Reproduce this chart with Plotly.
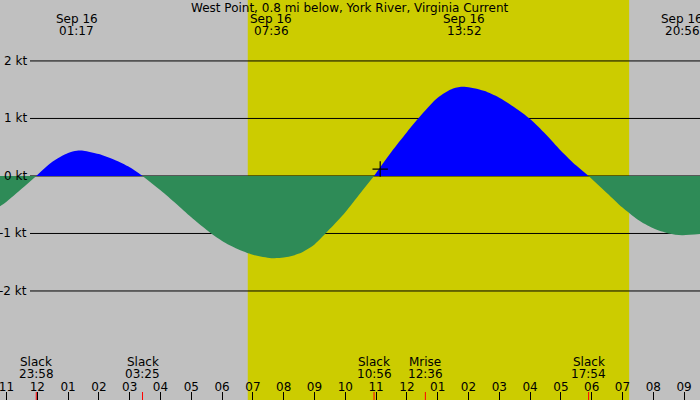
import plotly.graph_objects as go

title = "West Point, 0.8 mi below, York River, Virginia Current"

# current speed (kt), slack points are exact zeros
times = [
    "2024-09-15 22:47", "2024-09-15 23:00", "2024-09-15 23:30", "2024-09-15 23:58",
    "2024-09-16 00:30", "2024-09-16 01:00", "2024-09-16 01:17", "2024-09-16 01:30",
    "2024-09-16 02:00", "2024-09-16 02:30", "2024-09-16 03:00", "2024-09-16 03:25",
    "2024-09-16 04:00", "2024-09-16 04:30", "2024-09-16 05:00", "2024-09-16 05:30",
    "2024-09-16 06:00", "2024-09-16 06:30", "2024-09-16 07:00", "2024-09-16 07:36",
    "2024-09-16 08:00", "2024-09-16 08:30", "2024-09-16 09:00", "2024-09-16 09:30",
    "2024-09-16 10:00", "2024-09-16 10:30", "2024-09-16 10:56",
    "2024-09-16 11:30", "2024-09-16 12:00", "2024-09-16 12:30", "2024-09-16 13:00",
    "2024-09-16 13:30", "2024-09-16 13:52", "2024-09-16 14:30", "2024-09-16 15:00",
    "2024-09-16 15:30", "2024-09-16 16:00", "2024-09-16 16:30", "2024-09-16 17:00",
    "2024-09-16 17:30", "2024-09-16 17:54",
    "2024-09-16 18:30", "2024-09-16 19:00", "2024-09-16 19:30", "2024-09-16 20:00",
    "2024-09-16 20:30", "2024-09-16 20:56", "2024-09-16 21:31",
]
speeds = [
    -0.53, -0.45, -0.22, 0,
    0.25, 0.40, 0.44, 0.44,
    0.38, 0.28, 0.15, 0,
    -0.25, -0.48, -0.72, -0.94,
    -1.13, -1.27, -1.37, -1.43,
    -1.42, -1.35, -1.19, -0.92,
    -0.63, -0.29, 0,
    0.42, 0.76, 1.08, 1.36,
    1.52, 1.55, 1.48, 1.36,
    1.19, 0.99, 0.73, 0.44,
    0.18, 0,
    -0.30, -0.55, -0.76, -0.91,
    -1.00, -1.03, -1.01,
]

max_times = ["2024-09-16 01:17", "2024-09-16 07:36", "2024-09-16 13:52", "2024-09-16 20:56"]
max_dates = ["Sep 16", "Sep 16", "Sep 16", "Sep 16"]
max_labels = ["01:17", "07:36", "13:52", "20:56"]

event_times = ["2024-09-15 23:58", "2024-09-16 03:25", "2024-09-16 10:56",
               "2024-09-16 12:36", "2024-09-16 17:54"]
event_names = ["Slack", "Slack", "Slack", "Mrise", "Slack"]
event_labels = ["23:58", "03:25", "10:56", "12:36", "17:54"]

sunrise = "2024-09-16 06:50"
sunset = "2024-09-16 19:13"

now_time = "2024-09-16 11:08"
now_speed = 0.12

kt_ticks = [2, 1, 0, -1, -2]

x_range = ["2024-09-15 22:47:20", "2024-09-16 21:31"]
y_range = [-3.896, 3.06]

font = dict(family="DejaVu Sans", size=12, color="black")

# split the curve at slack so flood and ebb get their own fill colour
segments = []
seg_x, seg_y = [times[0]], [speeds[0]]
for t, s in zip(times[1:], speeds[1:]):
    seg_x.append(t)
    seg_y.append(s)
    if s == 0:
        segments.append((seg_x, seg_y))
        seg_x, seg_y = [t], [s]
if len(seg_x) > 1:
    segments.append((seg_x, seg_y))

fig = go.Figure()

for sx, sy in segments:
    color = "#0000FF" if sum(sy) > 0 else "#2E8B57"
    fig.add_trace(go.Scatter(
        x=sx, y=sy, mode="lines",
        line=dict(width=0, shape="spline", smoothing=0.8),
        fill="tozeroy", fillcolor=color,
        hoverinfo="skip", showlegend=False,
    ))

fig.add_trace(go.Scatter(
    x=[now_time], y=[now_speed], mode="markers",
    marker=dict(symbol="cross-thin", size=11, line=dict(color="black", width=1.2)),
    hoverinfo="skip", showlegend=False,
))

shapes = [dict(type="rect", xref="x", yref="paper", x0=sunrise, x1=sunset, y0=0, y1=1,
               fillcolor="#CCCC00", line=dict(width=0), layer="below")]
for k in kt_ticks:
    shapes.append(dict(type="line", xref="paper", yref="y", x0=30 / 700, x1=1, y0=k, y1=k,
                       line=dict(color="black", width=1), layer="below"))
for t in event_times:
    shapes.append(dict(type="line", xref="x", yref="paper", x0=t, x1=t, y0=0, y1=0.02,
                       line=dict(color="red", width=1)))

annotations = [dict(text=title, xref="paper", yref="paper", x=0.5, y=1 - 7.5 / 400,
                    showarrow=False, font=font, yanchor="middle")]
for k in kt_ticks:
    annotations.append(dict(text=f"{k} kt", xref="paper", yref="y", x=29 / 700, y=k,
                            xanchor="right", yanchor="middle", showarrow=False, font=font))
for t, d, lab in zip(max_times, max_dates, max_labels):
    annotations.append(dict(text=d, xref="x", yref="paper", x=t, y=1 - 19.5 / 400,
                            yanchor="middle", showarrow=False, font=font))
    annotations.append(dict(text=lab, xref="x", yref="paper", x=t, y=1 - 31.5 / 400,
                            yanchor="middle", showarrow=False, font=font))
for t, n, lab in zip(event_times, event_names, event_labels):
    annotations.append(dict(text=n, xref="x", yref="paper", x=t, y=1 - 361.5 / 400,
                            yanchor="middle", showarrow=False, font=font))
    annotations.append(dict(text=lab, xref="x", yref="paper", x=t, y=1 - 373.5 / 400,
                            yanchor="middle", showarrow=False, font=font))

fig.update_layout(
    width=700,
    height=400,
    margin=dict(l=0, r=0, t=0, b=0),
    paper_bgcolor="#C0C0C0",
    plot_bgcolor="#C0C0C0",
    font=font,
    shapes=shapes,
    annotations=annotations,
    xaxis=dict(
        type="date", range=x_range,
        tick0="2024-09-15 23:00", dtick=3600000, tickformat="%I",
        ticks="inside", ticklen=8, tickcolor="black", tickwidth=1,
        ticklabelposition="inside", ticklabeloverflow="allow",
        ticklabelstandoff=-2, tickfont=font,
        showgrid=False, zeroline=False, showline=False,
    ),
    yaxis=dict(
        range=y_range, showticklabels=False, showgrid=False,
        zeroline=False, showline=False, ticks="",
    ),
)

fig.write_html("out.html", config={"displayModeBar": False},
               post_script="document.body.style.margin = '0';")
